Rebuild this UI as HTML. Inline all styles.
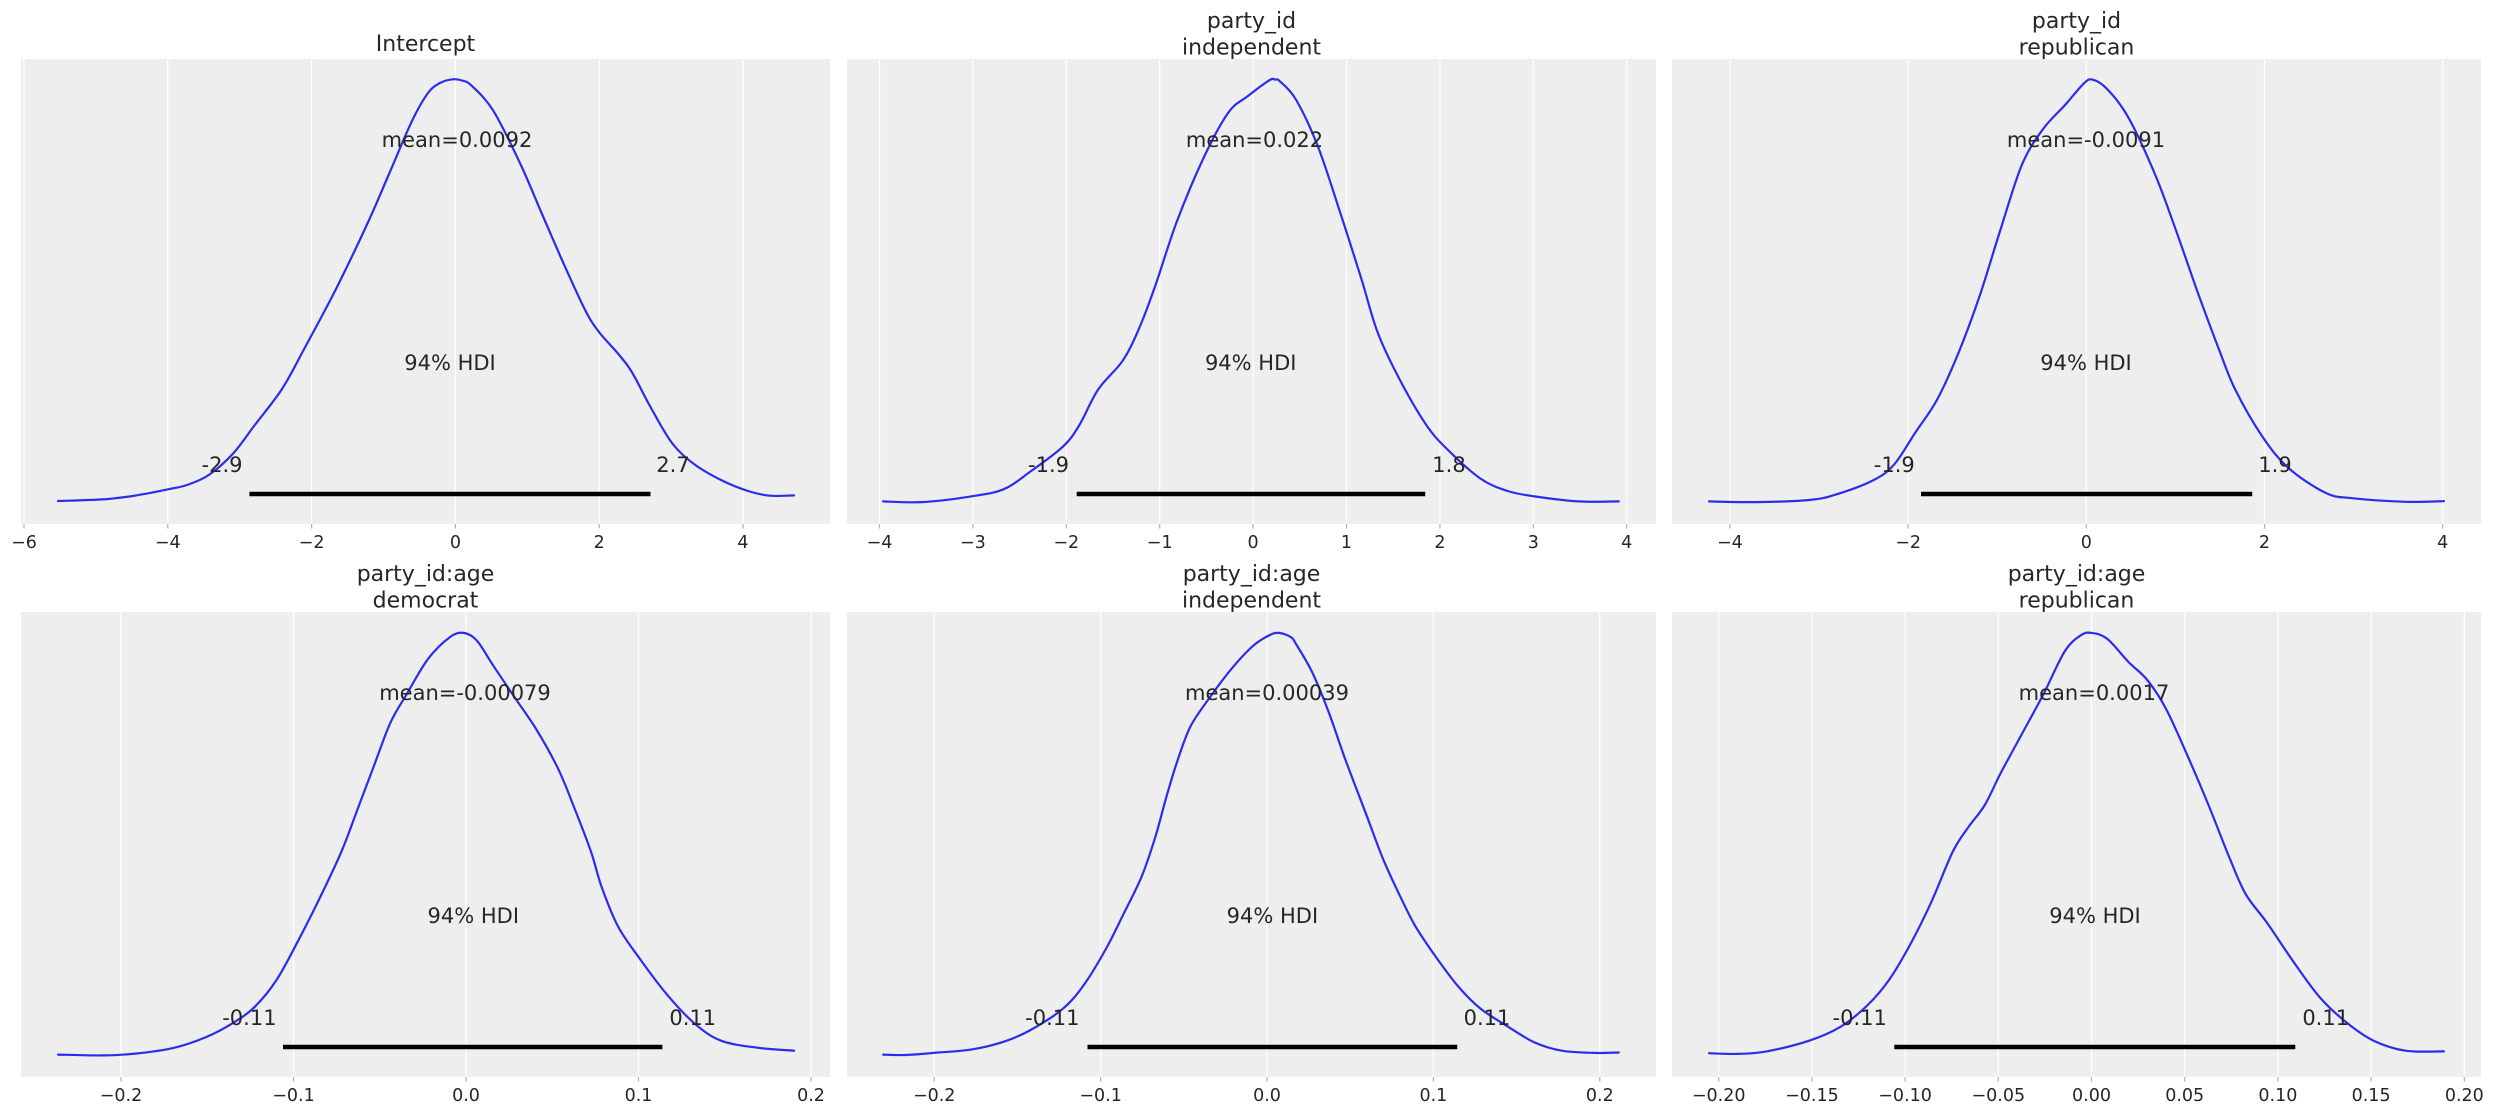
<!DOCTYPE html>
<html><head><meta charset="utf-8">
<style>
html,body{margin:0;padding:0;background:#fff;}
svg{display:block;}
text{font-family:"DejaVu Sans","Liberation Sans",sans-serif;fill:#262626;}
.t{font-size:22px;text-anchor:middle;}
.a{font-size:21px;text-anchor:middle;}
.k{font-size:17.5px;text-anchor:middle;}
.g line{stroke:#fff;stroke-width:1.2;}
.tk line{stroke:#b0b0b0;stroke-width:1.2;}
.c{fill:none;stroke:#2a2eec;stroke-width:2.2;stroke-linejoin:round;stroke-linecap:round;}
.h{stroke:#000;stroke-width:4.6;stroke-linecap:butt;}
</style></head><body>
<svg id="fig" width="2495" height="1115" viewBox="0 0 2495 1115" xmlns="http://www.w3.org/2000/svg">
<rect x="0" y="0" width="2495" height="1115" fill="#fff"/>
<rect x="21" y="59" width="809" height="465" fill="#eeeeee"/>
<rect x="847" y="59" width="809" height="465" fill="#eeeeee"/>
<rect x="1672" y="59" width="809" height="465" fill="#eeeeee"/>
<rect x="21" y="612" width="809" height="465" fill="#eeeeee"/>
<rect x="847" y="612" width="809" height="465" fill="#eeeeee"/>
<rect x="1672" y="612" width="809" height="465" fill="#eeeeee"/>

<g class="g">
<line x1="24" y1="59" x2="24" y2="524"/><line x1="167.8" y1="59" x2="167.8" y2="524"/><line x1="311.6" y1="59" x2="311.6" y2="524"/><line x1="455.4" y1="59" x2="455.4" y2="524"/><line x1="599.2" y1="59" x2="599.2" y2="524"/><line x1="743" y1="59" x2="743" y2="524"/>
<line x1="879.5" y1="59" x2="879.5" y2="524"/><line x1="972.9" y1="59" x2="972.9" y2="524"/><line x1="1066.3" y1="59" x2="1066.3" y2="524"/><line x1="1159.7" y1="59" x2="1159.7" y2="524"/><line x1="1253.1" y1="59" x2="1253.1" y2="524"/><line x1="1346.5" y1="59" x2="1346.5" y2="524"/><line x1="1439.9" y1="59" x2="1439.9" y2="524"/><line x1="1533.3" y1="59" x2="1533.3" y2="524"/><line x1="1626.7" y1="59" x2="1626.7" y2="524"/>
<line x1="1729.9" y1="59" x2="1729.9" y2="524"/><line x1="1908.1" y1="59" x2="1908.1" y2="524"/><line x1="2086.3" y1="59" x2="2086.3" y2="524"/><line x1="2264.5" y1="59" x2="2264.5" y2="524"/><line x1="2442.7" y1="59" x2="2442.7" y2="524"/>
<line x1="121" y1="612" x2="121" y2="1077"/><line x1="293.5" y1="612" x2="293.5" y2="1077"/><line x1="466" y1="612" x2="466" y2="1077"/><line x1="638.5" y1="612" x2="638.5" y2="1077"/><line x1="811" y1="612" x2="811" y2="1077"/>
<line x1="934.2" y1="612" x2="934.2" y2="1077"/><line x1="1100.6" y1="612" x2="1100.6" y2="1077"/><line x1="1267" y1="612" x2="1267" y2="1077"/><line x1="1433.4" y1="612" x2="1433.4" y2="1077"/><line x1="1599.8" y1="612" x2="1599.8" y2="1077"/>
<line x1="1718.7" y1="612" x2="1718.7" y2="1077"/><line x1="1811.9" y1="612" x2="1811.9" y2="1077"/><line x1="1905.1" y1="612" x2="1905.1" y2="1077"/><line x1="1998.3" y1="612" x2="1998.3" y2="1077"/><line x1="2091.5" y1="612" x2="2091.5" y2="1077"/><line x1="2184.7" y1="612" x2="2184.7" y2="1077"/><line x1="2277.9" y1="612" x2="2277.9" y2="1077"/><line x1="2371.1" y1="612" x2="2371.1" y2="1077"/><line x1="2464.3" y1="612" x2="2464.3" y2="1077"/>
</g>

<g class="tk">
<line x1="24" y1="524" x2="24" y2="528.5"/><line x1="167.8" y1="524" x2="167.8" y2="528.5"/><line x1="311.6" y1="524" x2="311.6" y2="528.5"/><line x1="455.4" y1="524" x2="455.4" y2="528.5"/><line x1="599.2" y1="524" x2="599.2" y2="528.5"/><line x1="743" y1="524" x2="743" y2="528.5"/>
<line x1="879.5" y1="524" x2="879.5" y2="528.5"/><line x1="972.9" y1="524" x2="972.9" y2="528.5"/><line x1="1066.3" y1="524" x2="1066.3" y2="528.5"/><line x1="1159.7" y1="524" x2="1159.7" y2="528.5"/><line x1="1253.1" y1="524" x2="1253.1" y2="528.5"/><line x1="1346.5" y1="524" x2="1346.5" y2="528.5"/><line x1="1439.9" y1="524" x2="1439.9" y2="528.5"/><line x1="1533.3" y1="524" x2="1533.3" y2="528.5"/><line x1="1626.7" y1="524" x2="1626.7" y2="528.5"/>
<line x1="1729.9" y1="524" x2="1729.9" y2="528.5"/><line x1="1908.1" y1="524" x2="1908.1" y2="528.5"/><line x1="2086.3" y1="524" x2="2086.3" y2="528.5"/><line x1="2264.5" y1="524" x2="2264.5" y2="528.5"/><line x1="2442.7" y1="524" x2="2442.7" y2="528.5"/>
<line x1="121" y1="1077" x2="121" y2="1081.5"/><line x1="293.5" y1="1077" x2="293.5" y2="1081.5"/><line x1="466" y1="1077" x2="466" y2="1081.5"/><line x1="638.5" y1="1077" x2="638.5" y2="1081.5"/><line x1="811" y1="1077" x2="811" y2="1081.5"/>
<line x1="934.2" y1="1077" x2="934.2" y2="1081.5"/><line x1="1100.6" y1="1077" x2="1100.6" y2="1081.5"/><line x1="1267" y1="1077" x2="1267" y2="1081.5"/><line x1="1433.4" y1="1077" x2="1433.4" y2="1081.5"/><line x1="1599.8" y1="1077" x2="1599.8" y2="1081.5"/>
<line x1="1718.7" y1="1077" x2="1718.7" y2="1081.5"/><line x1="1811.9" y1="1077" x2="1811.9" y2="1081.5"/><line x1="1905.1" y1="1077" x2="1905.1" y2="1081.5"/><line x1="1998.3" y1="1077" x2="1998.3" y2="1081.5"/><line x1="2091.5" y1="1077" x2="2091.5" y2="1081.5"/><line x1="2184.7" y1="1077" x2="2184.7" y2="1081.5"/><line x1="2277.9" y1="1077" x2="2277.9" y2="1081.5"/><line x1="2371.1" y1="1077" x2="2371.1" y2="1081.5"/><line x1="2464.3" y1="1077" x2="2464.3" y2="1081.5"/>
</g>

<g class="k">
<text x="24" y="548">−6</text><text x="167.8" y="548">−4</text><text x="311.6" y="548">−2</text><text x="455.4" y="548">0</text><text x="599.2" y="548">2</text><text x="743" y="548">4</text>
<text x="879.5" y="548">−4</text><text x="972.9" y="548">−3</text><text x="1066.3" y="548">−2</text><text x="1159.7" y="548">−1</text><text x="1253.1" y="548">0</text><text x="1346.5" y="548">1</text><text x="1439.9" y="548">2</text><text x="1533.3" y="548">3</text><text x="1626.7" y="548">4</text>
<text x="1729.9" y="548">−4</text><text x="1908.1" y="548">−2</text><text x="2086.3" y="548">0</text><text x="2264.5" y="548">2</text><text x="2442.7" y="548">4</text>
<text x="121" y="1101">−0.2</text><text x="293.5" y="1101">−0.1</text><text x="466" y="1101">0.0</text><text x="638.5" y="1101">0.1</text><text x="811" y="1101">0.2</text>
<text x="934.2" y="1101">−0.2</text><text x="1100.6" y="1101">−0.1</text><text x="1267" y="1101">0.0</text><text x="1433.4" y="1101">0.1</text><text x="1599.8" y="1101">0.2</text>
<text x="1718.7" y="1101">−0.20</text><text x="1811.9" y="1101">−0.15</text><text x="1905.1" y="1101">−0.10</text><text x="1998.3" y="1101">−0.05</text><text x="2091.5" y="1101">0.00</text><text x="2184.7" y="1101">0.05</text><text x="2277.9" y="1101">0.10</text><text x="2371.1" y="1101">0.15</text><text x="2464.3" y="1101">0.20</text>
</g>

<polyline class="c" points="58,501 108,499 141,494.6 168,489.3 187,485 208.7,475 233,453.6 254.8,425 282,389 303.6,350 336,289 368.6,221 390.3,171 412,121 428,93 440,83 452.6,79.3 462,80.5 471.6,85.7 493.3,110.7 520.4,164 542,214 563.8,264 585.5,310.7 599,332 618,353.6 631.5,371.4 650.5,407 672,443 694,464 721,480 748,491 769.8,495.7 794,495.4"/>
<polyline class="c" points="883.1,501.4 922.2,502.1 971,496.4 1003.5,489.3 1030.6,471.4 1063.1,446.4 1079.4,425 1098.3,389.3 1122.7,360.7 1139,328.6 1155.3,285.7 1176.9,221.4 1204,157 1228.4,112.5 1247.4,96.4 1269.1,80.4 1275,79.6 1280,81.4 1296.2,100 1317.9,146.4 1339.6,210.7 1361.3,278.6 1377.5,332 1399.2,378.6 1426.3,425 1448,450 1480.5,478.6 1507.6,491 1534.7,496.4 1578.1,501.4 1618.8,501.4"/>
<polyline class="c" points="1709,501.4 1755.9,502.1 1809.1,500 1835.7,494.6 1873,480.4 1894.3,464.3 1915.6,432.1 1936.9,400 1958.2,353.6 1979.5,296.4 2000.8,228.6 2022.1,164.3 2043.4,128.6 2064.7,105.4 2083.4,83.9 2092.4,79.6 2107.3,89.3 2128.6,117.9 2155.3,175 2176.6,232.1 2197.9,292.9 2219.2,350 2235.1,389.3 2261.8,435.7 2288.4,467.9 2325.7,492.9 2352.3,498.2 2405.6,501.8 2443.9,501.1"/>
<polyline class="c" points="58,1054.6 103,1055.4 135.5,1053.6 173.5,1047.9 206,1037.1 233.1,1022.9 254.8,1006.8 276.5,980 298.2,940.7 319.8,897.9 341.5,851.4 357.8,808.6 374,765.7 390.3,722.9 406.6,694.3 428.3,658.6 450,637.1 463.5,632.9 477,640.7 493.3,665.7 515,697.9 536.7,730 558.4,769.3 574.6,808.6 590.9,851.4 601.7,887.1 618,926.4 639.7,958.6 666.8,994.3 693.9,1022.9 721,1040.7 759,1047.9 794.2,1050.7"/>
<polyline class="c" points="883.1,1054.6 905.9,1055 938.4,1052.5 971,1049.6 1003.5,1041.8 1030.6,1030 1063.1,1008.6 1084.8,983.6 1106.5,947.9 1122.7,915.7 1141.7,876.4 1155.3,837.1 1166.1,797.9 1177,762.1 1190.5,726.4 1209.5,697.9 1231.1,669.3 1252.8,646.1 1269.1,635.4 1278.9,632.9 1290.8,637.1 1296.2,644.3 1312.5,672.9 1328.7,712.1 1345,758.6 1366.7,815.7 1382.9,858.6 1399.2,894.3 1415.5,926.4 1437.1,958.6 1458.8,987.1 1480.5,1008.6 1507.6,1026.4 1534.7,1042.5 1561.8,1050.7 1594.4,1052.9 1618.8,1052.5"/>
<polyline class="c" points="1709,1053.2 1737.2,1053.9 1766.5,1051.4 1809.1,1040.7 1841.1,1026.4 1867.7,1005 1889,980 1910.3,944.3 1931.6,901.4 1952.9,851.4 1968.9,826.4 1984.8,805 2000.8,772.9 2022.1,733.6 2043.4,694.3 2064.7,651.4 2080.7,635.4 2091.4,632.9 2107.3,638.9 2128.6,662.1 2147.3,680 2165.9,708.6 2187.2,755 2208.5,805 2229.8,858.6 2245.8,894.3 2267.1,922.9 2293.7,962.1 2320.3,997.9 2347,1022.9 2373.6,1040.7 2405.6,1050.7 2443.9,1051.4"/>

<line class="h" x1="249.4" y1="494" x2="650.5" y2="494"/>
<line class="h" x1="1076.7" y1="494" x2="1425.2" y2="494"/>
<line class="h" x1="1921" y1="494" x2="2252.2" y2="494"/>
<line class="h" x1="283" y1="1047" x2="662.4" y2="1047"/>
<line class="h" x1="1087.5" y1="1047" x2="1457.2" y2="1047"/>
<line class="h" x1="1894.3" y1="1047" x2="2295.3" y2="1047"/>

<g class="t">
<text x="425.5" y="51">Intercept</text>
<text x="1251.5" y="28">party_id</text><text x="1251.5" y="54.5">independent</text>
<text x="2076.5" y="28">party_id</text><text x="2076.5" y="54.5">republican</text>
<text x="425.5" y="581">party_id:age</text><text x="425.5" y="607.5">democrat</text>
<text x="1251.5" y="581">party_id:age</text><text x="1251.5" y="607.5">independent</text>
<text x="2076.5" y="581">party_id:age</text><text x="2076.5" y="607.5">republican</text>
</g>

<g class="a">
<text x="457" y="147">mean=0.0092</text>
<text x="450" y="370">94% HDI</text>
<text x="222" y="472">-2.9</text>
<text x="673" y="472">2.7</text>

<text x="1254.5" y="147">mean=0.022</text>
<text x="1250.7" y="370">94% HDI</text>
<text x="1048.5" y="472">-1.9</text>
<text x="1449" y="472">1.8</text>

<text x="2086" y="147">mean=-0.0091</text>
<text x="2086" y="370">94% HDI</text>
<text x="1894.3" y="472">-1.9</text>
<text x="2275" y="472">1.9</text>

<text x="465" y="700">mean=-0.00079</text>
<text x="473.3" y="923">94% HDI</text>
<text x="249.4" y="1025">-0.11</text>
<text x="692.8" y="1025">0.11</text>

<text x="1267" y="700">mean=0.00039</text>
<text x="1272.4" y="923">94% HDI</text>
<text x="1052.3" y="1025">-0.11</text>
<text x="1487" y="1025">0.11</text>

<text x="2094" y="700">mean=0.0017</text>
<text x="2095" y="923">94% HDI</text>
<text x="1859.7" y="1025">-0.11</text>
<text x="2325.7" y="1025">0.11</text>
</g>
</svg>
<script>
(function(){
  try{
    var NS="http://www.w3.org/2000/svg";
    var pls=document.querySelectorAll("polyline.c");
    for(var i=0;i<pls.length;i++){
      var pl=pls[i];
      var raw=pl.getAttribute("points").trim().split(/\s+/);
      var p=[];
      for(var j=0;j<raw.length;j++){var xy=raw[j].split(",");p.push([+xy[0],+xy[1]]);}
      var d="M"+p[0][0]+","+p[0][1];
      for(var k=0;k<p.length-1;k++){
        var p0=p[k>0?k-1:0],p1=p[k],p2=p[k+1],p3=p[k+2<p.length?k+2:p.length-1];
        var c1x=p1[0]+(p2[0]-p0[0])/6,c1y=p1[1]+(p2[1]-p0[1])/6;
        var c2x=p2[0]-(p3[0]-p1[0])/6,c2y=p2[1]-(p3[1]-p1[1])/6;
        d+=" C"+c1x.toFixed(2)+","+c1y.toFixed(2)+" "+c2x.toFixed(2)+","+c2y.toFixed(2)+" "+p2[0]+","+p2[1];
      }
      var path=document.createElementNS(NS,"path");
      path.setAttribute("class","c");
      path.setAttribute("d",d);
      pl.parentNode.replaceChild(path,pl);
    }
  }catch(e){}
})();
</script>
</body></html>
